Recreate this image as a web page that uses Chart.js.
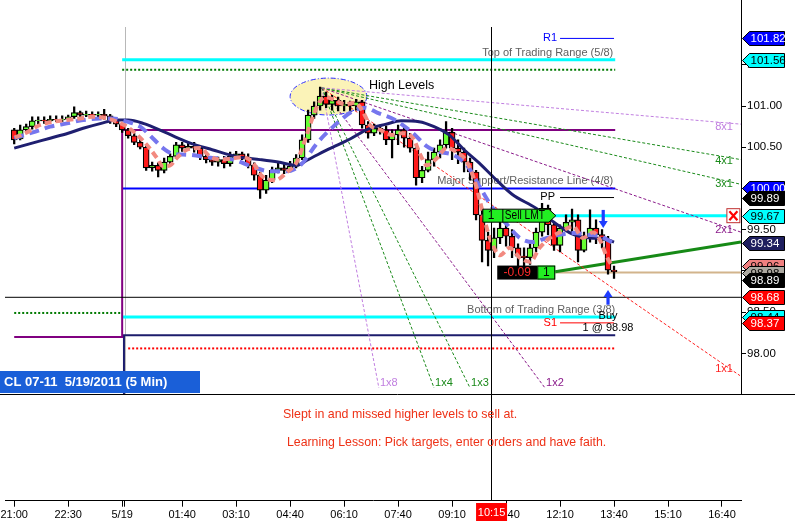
<!DOCTYPE html>
<html>
<head>
<meta charset="utf-8">
<title>CL 07-11 5/19/2011 (5 Min)</title>
<script src="https://cdn.jsdelivr.net/npm/chart.js@4.4.1/dist/chart.umd.min.js"></script>
<style>
html,body{margin:0;padding:0;background:#ffffff;overflow:hidden;}
#wrap{width:795px;height:529px;position:relative;}
canvas{display:block;}
</style>
</head>
<body>
<div id="wrap"><canvas id="chart" width="795" height="529"></canvas></div>
<script>
// ===================== DATA =====================
// time = minutes after 21:00 (5/18), price in $
const candleTime = [0,10,20,30,40,50,60,70,80,90,100,110,120,130,140,150,160,170,180,190,200,210,220,230,240,250,260,270,280,290,300,310,320,330,340,350,360,370,380,390,400,410,420,430,440,450,460,470,480,490,500,510,520,530,540,550,560,570,580,590,600,610,620,630,640,650,660,670,680,690,700,710,720,730,740,750,760,770,780,790,800,810,820,830,840,850,860,870,880,890,900,910,920,930,940,950,960,970,980,990,1000];
const candleOpen = [
100.71,100.60,100.71,100.75,100.82,100.83,100.82,100.84,100.83,100.84,
100.87,100.92,100.89,100.90,100.89,100.90,100.88,100.83,100.78,100.71,
100.64,100.56,100.50,100.25,100.28,100.22,100.32,100.39,100.53,100.49,
100.51,100.49,100.39,100.35,100.32,100.35,100.30,100.39,100.42,100.38,
100.28,100.16,99.98,100.10,100.22,100.25,100.22,100.27,100.37,100.59,
100.89,101.00,101.12,101.02,101.07,101.00,101.02,101.00,101.05,100.77,
100.67,100.73,100.71,100.59,100.65,100.71,100.61,100.49,100.13,100.22,
100.35,100.44,100.53,100.68,100.49,100.44,100.32,100.20,99.68,99.37,
99.25,99.40,99.52,99.42,99.28,99.18,99.16,99.28,99.47,99.76,
99.56,99.31,99.52,99.59,99.62,99.25,99.40,99.52,99.44,99.37,
99.01];
const candleHigh = [
100.73,100.77,100.78,100.87,100.87,100.87,100.88,100.88,100.88,100.89,
100.99,100.94,100.94,100.93,100.93,100.96,100.90,100.84,100.79,100.73,
100.67,100.62,100.51,100.32,100.31,100.37,100.42,100.56,100.56,100.55,
100.56,100.51,100.44,100.38,100.38,100.39,100.44,100.45,100.44,100.42,
100.31,100.20,100.16,100.26,100.31,100.30,100.33,100.41,100.65,100.95,
101.05,101.23,101.17,101.13,101.11,101.07,101.06,101.08,101.07,100.81,
100.78,100.77,100.76,100.71,100.77,100.76,100.67,100.53,100.27,100.44,
100.49,100.59,100.81,100.73,100.59,100.49,100.37,100.22,99.74,99.47,
99.52,99.64,99.59,99.50,99.33,99.28,99.33,99.52,99.82,99.80,
99.59,99.56,99.68,99.75,99.68,99.47,99.74,99.62,99.50,99.42,
99.06];
const candleLow = [
100.54,100.59,100.68,100.72,100.78,100.79,100.81,100.81,100.81,100.82,
100.85,100.87,100.87,100.87,100.87,100.84,100.79,100.75,100.68,100.61,
100.53,100.48,100.22,100.21,100.14,100.19,100.30,100.37,100.45,100.47,
100.44,100.35,100.31,100.28,100.27,100.25,100.27,100.37,100.35,100.25,
100.10,99.88,99.94,100.07,100.19,100.18,100.20,100.25,100.35,100.56,
100.85,100.95,100.98,100.95,100.94,100.94,100.93,100.95,100.73,100.61,
100.64,100.66,100.53,100.37,100.53,100.50,100.44,100.04,100.07,100.20,
100.27,100.37,100.49,100.35,100.30,100.20,100.10,99.62,99.11,99.06,
99.16,99.33,99.30,99.16,99.06,99.04,99.08,99.23,99.42,99.44,
99.25,99.23,99.50,99.47,99.11,99.23,99.35,99.33,99.28,98.96,
98.91];
const candleClose = [
100.59,100.71,100.75,100.82,100.83,100.82,100.84,100.83,100.84,100.87,
100.92,100.89,100.90,100.89,100.90,100.88,100.83,100.78,100.71,100.64,
100.56,100.50,100.25,100.28,100.22,100.32,100.39,100.53,100.49,100.51,
100.49,100.39,100.35,100.32,100.35,100.30,100.39,100.42,100.38,100.28,
100.16,99.98,100.10,100.22,100.25,100.22,100.27,100.37,100.59,100.89,
101.00,101.12,101.02,101.07,101.00,101.02,101.00,101.05,100.77,100.67,
100.73,100.71,100.59,100.65,100.71,100.61,100.49,100.13,100.22,100.35,
100.44,100.53,100.68,100.49,100.44,100.32,100.20,99.68,99.37,99.25,
99.40,99.52,99.42,99.28,99.18,99.16,99.28,99.47,99.76,99.56,
99.31,99.52,99.59,99.62,99.25,99.40,99.52,99.44,99.37,99.01,
98.99];

// moving averages
const slowMaTime  = [0,30,60,90,115,145,170,190,215,255,290,330,375,410,440,470,490,525,560,590,620,645,675,700,725,750,775,800,830,870,900,930,960,985,1000];
const slowMaValue = [100.49,100.55,100.61,100.67,100.73,100.79,100.83,100.83,100.79,100.67,100.56,100.47,100.38,100.35,100.32,100.28,100.35,100.48,100.60,100.72,100.78,100.82,100.81,100.75,100.65,100.47,100.31,100.13,99.93,99.76,99.59,99.45,99.40,99.39,99.35];
const midMaTime  = [0,31,60,88,115,143,165,188,210,231,248,265,288,331,365,398,426,455,477,505,532,565,585,605,635,665,688,710,731,755,777,798,822,843,865,888,910,932,955,977,998];
const midMaValue = [100.61,100.68,100.75,100.79,100.83,100.85,100.85,100.81,100.75,100.61,100.49,100.42,100.41,100.37,100.35,100.26,100.21,100.21,100.28,100.55,100.75,100.94,100.98,100.92,100.83,100.67,100.51,100.44,100.41,100.28,100.01,99.76,99.56,99.40,99.35,99.40,99.44,99.46,99.44,99.42,99.34];
const fastMaTime  = [1,21,43,65,88,110,131,155,171,188,205,221,238,248,260,271,288,310,326,343,360,380,396,413,435,455,471,485,496,506,518,535,551,568,580,593,610,630,646,665,677,688,705,721,738,755,771,782,793,810,826,843,860,876,893,910,932,948,965,977,988,998];
const fastMaValue = [100.62,100.68,100.77,100.81,100.83,100.85,100.87,100.85,100.81,100.75,100.65,100.53,100.37,100.27,100.28,100.37,100.47,100.49,100.39,100.35,100.36,100.38,100.33,100.15,100.10,100.20,100.32,100.59,100.83,101.01,101.11,101.07,101.02,101.04,100.95,100.77,100.71,100.65,100.67,100.61,100.41,100.28,100.37,100.49,100.44,100.32,100.01,99.68,99.40,99.19,99.28,99.16,99.11,99.28,99.40,99.47,99.54,99.40,99.47,99.37,99.17,99.05];

// axes
const xTickValues = [0,90,180,184,280,370,460,550,640,730,820,910,1000,1090,1180];
const xTickLabels = ['21:00','22:30','5/19','','01:40','03:10','04:40','06:10','07:40','09:10','10:40','12:10','13:40','15:10','16:40'];
const yTickValues = [98.00,98.50,99.00,99.50,100.00,100.50,101.00,101.50];
const timeRange  = [-15.34, 1211.7];
const priceRange = [96.213, 102.286];

// trading range levels (5/19 session) and previous session
const sessionStart = 180;
const levelEnd = 1002;
const topRange = 101.56;
const upperDotted = 101.44;
const purpleLevel = 100.71;
const majorLevel = 100.00;
const bottomRange = 98.44;
const navyLevel = 98.22;
const lowerDotted = 98.06;
const prevDotted = 98.49;
const prevPurple = 98.20;
const prevNavy = 97.40;

// pivots
const pivotStart = 910, pivotEnd = 1000;
const r1Level = 101.82, ppLevel = 99.89, s1Level = 98.37;

// orders / trade
const sellLimitPrice = 99.67;
const sellLimitStart = 780;
const sellLimitEnd = 1190;
const entryPrice = 98.98;
const entryTime = 902;
const trendStartPrice = 98.99;
const trendEndPrice = 99.35;
const crossTime = 795;   // 10:15
const crossPrice = 98.68;
const pnlText = '-0.09';
const downArrowTime = 982, downArrowFrom = 99.74, downArrowTo = 99.52;
const upArrowTime = 990, upArrowFrom = 98.59, upArrowTo = 98.77;

// high zone
const highZoneTime = 524, highZonePrice = 101.115, highZoneHalfTime = 64, highZoneHalfPrice = 0.224;

// Gann fan from the high
const fanOriginTime = 513;
const fanOriginPrice = 101.22;
const fanLabels = ['8x1','4x1','3x1','2x1','1x1','1x2','1x3','1x4','1x8'];
const fanEndTime = [1211.7,1211.7,1211.7,1211.7,1210,885,760,700,608];
const fanEndPrice = [100.78,100.35,100.05,99.47,97.73,97.58,97.58,97.58,97.58];

// right axis price flags
const flagValues = [101.82,101.56,100.00,99.89,99.67,99.34,99.06,98.98,98.89,98.68,98.44,98.37];

// ===================== STYLES =====================
const FONT = '"Liberation Sans", Arial, Helvetica, sans-serif';
const fanColors = ['#c07ee0','#1a8a1a','#1a8a1a','#8a1a8a','#ff2020','#8a1a8a','#1a8a1a','#1a8a1a','#c07ee0'];
const flagFill = ['#0000ff','#00ffff','#0000ff','#000000','#00ffff','#1e1e5e','#f08080','#aca8a0','#000000','#ff0000','#00ffff','#ff0000'];
const flagInk  = ['#ffffff','#000000','#ffffff','#ffffff','#000000','#ffffff','#000000','#000000','#ffffff','#ffffff','#000000','#ffffff'];
const PANEL_BOTTOM = 394;
const panelClip = {left: 0, top: 0, right: 0, bottom: -106.7};

function zip(ts, vs) { return ts.map((t, i) => ({x: t, y: vs[i]})); }
function seg(points, color, width, dash, order) {
  return {type: 'line', data: points, borderColor: color, borderWidth: width, borderDash: dash || [],
          pointRadius: 0, tension: 0, fill: false, order: order, clip: panelClip, borderCapStyle: 'butt'};
}
function hl(t1, t2, p) { return [{x: t1, y: p}, {x: t2, y: p}]; }

const bodyColors = candleClose.map((c, i) => c >= candleOpen[i] ? '#66ff33' : '#ff1a1a');

const datasets = [
  seg([{x: 0, y: prevDotted}, {x: sessionStart, y: prevDotted}], '#007a00', 2, [2, 2], 60),
  seg([{x: 0, y: prevPurple}, {x: sessionStart, y: prevPurple}, {x: sessionStart, y: purpleLevel}, {x: levelEnd, y: purpleLevel}], '#800080', 2, [], 60),
  seg([{x: 0, y: prevNavy}, {x: sessionStart + 3, y: prevNavy}, {x: sessionStart + 3, y: navyLevel}, {x: levelEnd, y: navyLevel}], '#1c1c6c', 2, [], 60),
  seg(hl(sessionStart, levelEnd, topRange), '#00ffff', 3, [], 60),
  seg(hl(sessionStart, levelEnd, upperDotted), '#007a00', 2, [2, 2], 60),
  seg(hl(sessionStart, levelEnd, majorLevel), '#0000ff', 2, [], 60),
  seg(hl(sessionStart, levelEnd, bottomRange), '#00ffff', 3, [], 60),
  seg(hl(sessionStart + 10, levelEnd, lowerDotted), '#ff0000', 2, [2, 2], 60),
  seg(hl(timeRange[0], timeRange[1], crossPrice), '#000000', 1, [], 58),
  seg(hl(pivotStart, pivotEnd, r1Level), '#0000ff', 1, [], 55),
  seg(hl(pivotStart, pivotEnd, ppLevel), '#000000', 1, [], 55),
  seg(hl(pivotStart, pivotEnd, s1Level), '#ff0000', 1, [], 55),
  seg(hl(sellLimitStart, sellLimitEnd, sellLimitPrice), '#00ffff', 3, [], 54),
  seg(hl(entryTime, timeRange[1], entryPrice), '#d2b48c', 2, [], 54),
  seg([{x: entryTime, y: trendStartPrice}, {x: timeRange[1], y: trendEndPrice}], '#168a16', 3, [], 53),
];
fanLabels.forEach((lab, i) => {
  datasets.push(seg([{x: fanOriginTime, y: fanOriginPrice}, {x: fanEndTime[i], y: fanEndPrice[i]}], fanColors[i], 1, [3, 2], 45));
});
datasets.push({
  type: 'bar', data: candleTime.map((t, i) => ({x: t, y: [candleLow[i], candleHigh[i]]})),
  backgroundColor: '#000000', barThickness: 1.6, grouped: false, order: 31, borderWidth: 0
});
datasets.push({
  type: 'bar', data: candleTime.map((t, i) => ({x: t, y: [candleOpen[i], candleClose[i]]})),
  backgroundColor: bodyColors, borderColor: '#000000', borderWidth: 1.2, borderSkipped: false,
  barThickness: 6, grouped: false, order: 30
});
datasets.push(Object.assign(seg(zip(slowMaTime, slowMaValue), '#1f1f70', 3, [], 22), {cubicInterpolationMode: 'monotone'}));
datasets.push(Object.assign(seg(zip(midMaTime, midMaValue), '#7676ee', 4, [10, 6], 21), {cubicInterpolationMode: 'monotone'}));
datasets.push(Object.assign(seg(zip(fastMaTime, fastMaValue), '#f28a80', 4, [7, 4], 20), {cubicInterpolationMode: 'monotone'}));

// ===================== DRAW HELPERS =====================
function text(ctx, s, x, y, color, size, align, weight, maxW) {
  ctx.font = (weight ? weight + ' ' : '') + size + 'px ' + FONT;
  ctx.fillStyle = color;
  ctx.textAlign = align || 'left';
  ctx.textBaseline = 'middle';
  if (maxW) ctx.fillText(s, x, y, maxW); else ctx.fillText(s, x, y);
}
function arrow(ctx, xm, yTail, yTip, color) {
  const dir = yTip > yTail ? 1 : -1;
  const headLen = 7, headW = 4.5, shaftW = 1.6;
  const yBase = yTip - dir * headLen;
  ctx.fillStyle = color;
  ctx.fillRect(xm - shaftW, Math.min(yTail, yBase), shaftW * 2, Math.abs(yBase - yTail));
  ctx.beginPath();
  ctx.moveTo(xm - headW, yBase); ctx.lineTo(xm + headW, yBase); ctx.lineTo(xm, yTip); ctx.closePath();
  ctx.fill();
}

const annotations = {
  id: 'annotations',
  beforeDatasetsDraw(chart) {
    const {ctx, scales: {x, y}} = chart;
    ctx.save();
    const xd = Math.round(x.getPixelForValue(sessionStart + 5)) + 0.5;
    ctx.strokeStyle = '#b8b8b8'; ctx.lineWidth = 1;
    ctx.beginPath(); ctx.moveTo(xd, 27); ctx.lineTo(xd, PANEL_BOTTOM); ctx.stroke();
    const cx = x.getPixelForValue(highZoneTime), cy = y.getPixelForValue(highZonePrice);
    const rx = x.getPixelForValue(highZoneTime + highZoneHalfTime) - cx;
    const ry = y.getPixelForValue(highZonePrice - highZoneHalfPrice) - cy;
    ctx.beginPath(); ctx.ellipse(cx, cy, rx, ry, 0, 0, Math.PI * 2);
    ctx.fillStyle = '#fbf3b8'; ctx.fill();
    ctx.setLineDash([5, 2, 1, 2]); ctx.strokeStyle = '#2a2aff'; ctx.lineWidth = 1; ctx.stroke();
    ctx.setLineDash([]);
    const xr = x.getPixelForValue(levelEnd) - 2;
    text(ctx, 'Top of Trading Range (5/8)', xr, y.getPixelForValue(topRange) - 7, '#606060', 11, 'right');
    text(ctx, 'Major Support/Resistance Line (4/8)', xr, y.getPixelForValue(majorLevel) - 8, '#606060', 11, 'right');
    text(ctx, 'Bottom of Trading Range (3/8)', xr + 2, y.getPixelForValue(bottomRange) - 7, '#606060', 11, 'right');
    ctx.restore();
  },
  afterDatasetsDraw(chart) {
    const {ctx, chartArea, scales: {x, y}} = chart;
    ctx.save();
    const xc = Math.round(x.getPixelForValue(crossTime)) + 0.5;
    ctx.strokeStyle = '#000'; ctx.lineWidth = 1;
    ctx.beginPath(); ctx.moveTo(xc, 27); ctx.lineTo(xc, chartArea.bottom); ctx.stroke();
    const x0 = x.getPixelForValue(fanOriginTime), y0 = y.getPixelForValue(fanOriginPrice);
    fanLabels.forEach((lab, i) => {
      const x1 = x.getPixelForValue(fanEndTime[i]), y1 = y.getPixelForValue(fanEndPrice[i]);
      if (i <= 4) {
        const lx = chartArea.right - 17;
        const ly = y0 + (y1 - y0) * (lx - x0) / (x1 - x0) + 4;
        text(ctx, lab, lx, ly, fanColors[i], 11, 'center');
      } else {
        text(ctx, lab, x1 + 1, y1 - 5, fanColors[i], 11, 'left');
      }
    });
    const ex = x.getPixelForValue(highZoneTime + highZoneHalfTime);
    const ey = y.getPixelForValue(highZonePrice + highZoneHalfPrice);
    text(ctx, 'High Levels', ex + 2, ey + 7, '#000000', 12.5, 'left');
    const xp = x.getPixelForValue(pivotStart) - 3;
    text(ctx, 'R1', xp, y.getPixelForValue(r1Level), '#0000ff', 11, 'right');
    text(ctx, 'PP', xp - 2, y.getPixelForValue(ppLevel) - 1, '#000000', 11, 'right');
    text(ctx, 'S1', xp, y.getPixelForValue(s1Level), '#ff0000', 11, 'right');
    // Sell LMT order box
    const tipX = x.getPixelForValue(entryTime + 1), sy = y.getPixelForValue(sellLimitPrice);
    const bl = tipX - 73, bt = sy - 6.5, bh = 13;
    ctx.beginPath();
    ctx.moveTo(bl, bt); ctx.lineTo(tipX - 7, bt); ctx.lineTo(tipX, sy); ctx.lineTo(tipX - 7, bt + bh); ctx.lineTo(bl, bt + bh); ctx.closePath();
    ctx.fillStyle = '#22ee22'; ctx.fill(); ctx.strokeStyle = '#000'; ctx.lineWidth = 1; ctx.stroke();
    ctx.beginPath(); ctx.moveTo(bl + 20, bt); ctx.lineTo(bl + 20, bt + bh); ctx.stroke();
    text(ctx, '1', bl + 5, sy + 0.5, '#000', 12, 'left');
    text(ctx, 'Sell LMT', bl + 22, sy + 0.5, '#000', 12, 'left', null, 40);
    // position box
    const px = x.getPixelForValue(entryTime), py = y.getPixelForValue(entryPrice);
    ctx.fillStyle = '#000'; ctx.fillRect(px - 58, py - 7, 40, 14);
    ctx.fillStyle = '#22ee22'; ctx.fillRect(px - 18, py - 7, 18, 14);
    ctx.strokeStyle = '#000'; ctx.strokeRect(px - 18 + 0.5, py - 7 + 0.5, 17, 13);
    text(ctx, pnlText, px - 38, py + 0.5, '#ff2a2a', 12, 'center');
    text(ctx, '1', px - 9, py + 0.5, '#000', 12, 'center');
    arrow(ctx, x.getPixelForValue(downArrowTime), y.getPixelForValue(downArrowFrom), y.getPixelForValue(downArrowTo), '#1f3cff');
    const ux = x.getPixelForValue(upArrowTime);
    arrow(ctx, ux, y.getPixelForValue(upArrowFrom), y.getPixelForValue(upArrowTo), '#1f3cff');
    text(ctx, 'Buy', ux, 316, '#000', 11, 'center');
    text(ctx, '1 @ ' + entryPrice.toFixed(2), ux, 328, '#000', 11, 'center');
    const kx = x.getPixelForValue(sellLimitEnd + 9), ky = y.getPixelForValue(sellLimitPrice);
    ctx.fillStyle = '#ffffff'; ctx.fillRect(kx - 6.5, ky - 7, 13, 14);
    ctx.strokeStyle = '#c03030'; ctx.lineWidth = 1; ctx.strokeRect(kx - 6.5, ky - 7, 13, 14);
    ctx.strokeStyle = '#ff0000'; ctx.lineWidth = 2.2;
    ctx.beginPath(); ctx.moveTo(kx - 4, ky - 4.5); ctx.lineTo(kx + 4, ky + 4.5); ctx.moveTo(kx + 4, ky - 4.5); ctx.lineTo(kx - 4, ky + 4.5); ctx.stroke();
    ctx.restore();
  },
  afterDraw(chart) {
    const {ctx, chartArea, scales: {x, y}} = chart;
    ctx.save();
    const ax = Math.round(chartArea.right) + 0.5;
    ctx.strokeStyle = '#000'; ctx.lineWidth = 1;
    ctx.beginPath(); ctx.moveTo(ax, 0); ctx.lineTo(ax, PANEL_BOTTOM); ctx.stroke();
    ctx.beginPath(); ctx.moveTo(0, PANEL_BOTTOM + 0.5); ctx.lineTo(chart.width, PANEL_BOTTOM + 0.5); ctx.stroke();
    flagValues.forEach((v, i) => {
      const yc = Math.round(y.getPixelForValue(v)) + 0.5;
      const fx = ax + 1;
      ctx.beginPath();
      ctx.moveTo(fx, yc); ctx.lineTo(fx + 7, yc - 7); ctx.lineTo(fx + 42, yc - 7); ctx.lineTo(fx + 42, yc + 7); ctx.lineTo(fx + 7, yc + 7); ctx.closePath();
      ctx.fillStyle = flagFill[i]; ctx.fill();
      ctx.strokeStyle = '#000'; ctx.lineWidth = 1; ctx.stroke();
      text(ctx, v.toFixed(2), fx + 8, yc + 0.5, flagInk[i], 11.5, 'left');
    });
    ctx.fillStyle = '#1a5fd8'; ctx.fillRect(0, 371, 200, 22);
    text(ctx, 'CL 07-11  5/19/2011 (5 Min)', 4, 382.5, '#ffffff', 13, 'left', 'bold');
    const xc = x.getPixelForValue(crossTime);
    ctx.fillStyle = '#ff0000'; ctx.fillRect(xc - 15, 503, 31, 18);
    text(ctx, '10:15', xc + 0.5, 512.5, '#ffffff', 11, 'center');
    text(ctx, 'Slept in and missed higher levels to sell at.', 283, 415, '#ee3116', 12.4, 'left');
    text(ctx, 'Learning Lesson: Pick targets, enter orders and have faith.', 287, 443, '#ee3116', 12.3, 'left');
    ctx.restore();
  }
};

new Chart(document.getElementById('chart'), {
  type: 'bar',
  data: {datasets: datasets},
  plugins: [annotations],
  options: {
    responsive: false,
    animation: false,
    events: [],
    layout: {padding: {left: 5, top: 0, right: 0, bottom: 0}},
    plugins: {legend: {display: false}, tooltip: {enabled: false}},
    scales: {
      x: {
        type: 'linear', min: timeRange[0], max: timeRange[1], offset: false,
        grid: {display: true, drawOnChartArea: false, drawTicks: true, tickLength: 6, color: '#000', offset: false},
        border: {display: true, color: '#000', width: 1},
        ticks: {autoSkip: false, maxRotation: 0, minRotation: 0, padding: 2, color: '#000',
                font: {family: FONT, size: 11},
                callback: (v, i) => xTickLabels[i]},
        afterBuildTicks: s => { s.ticks = xTickValues.map(v => ({value: v})); },
        afterFit: s => { s.height = 28.3; s.paddingLeft = 0; s.paddingRight = 0; }
      },
      y: {
        type: 'linear', position: 'right', min: priceRange[0], max: priceRange[1], beginAtZero: false,
        grid: {display: true, drawOnChartArea: false, drawTicks: true, tickLength: 5, color: '#000'},
        border: {display: false},
        ticks: {padding: 1, color: '#000', font: {family: FONT, size: 11.5},
                callback: v => Number(v).toFixed(2)},
        afterBuildTicks: s => { s.ticks = yTickValues.map(v => ({value: v})); },
        afterFit: s => { s.width = 54; s.paddingTop = 0; s.paddingBottom = 0; }
      }
    }
  }
});
</script>
</body>
</html>
